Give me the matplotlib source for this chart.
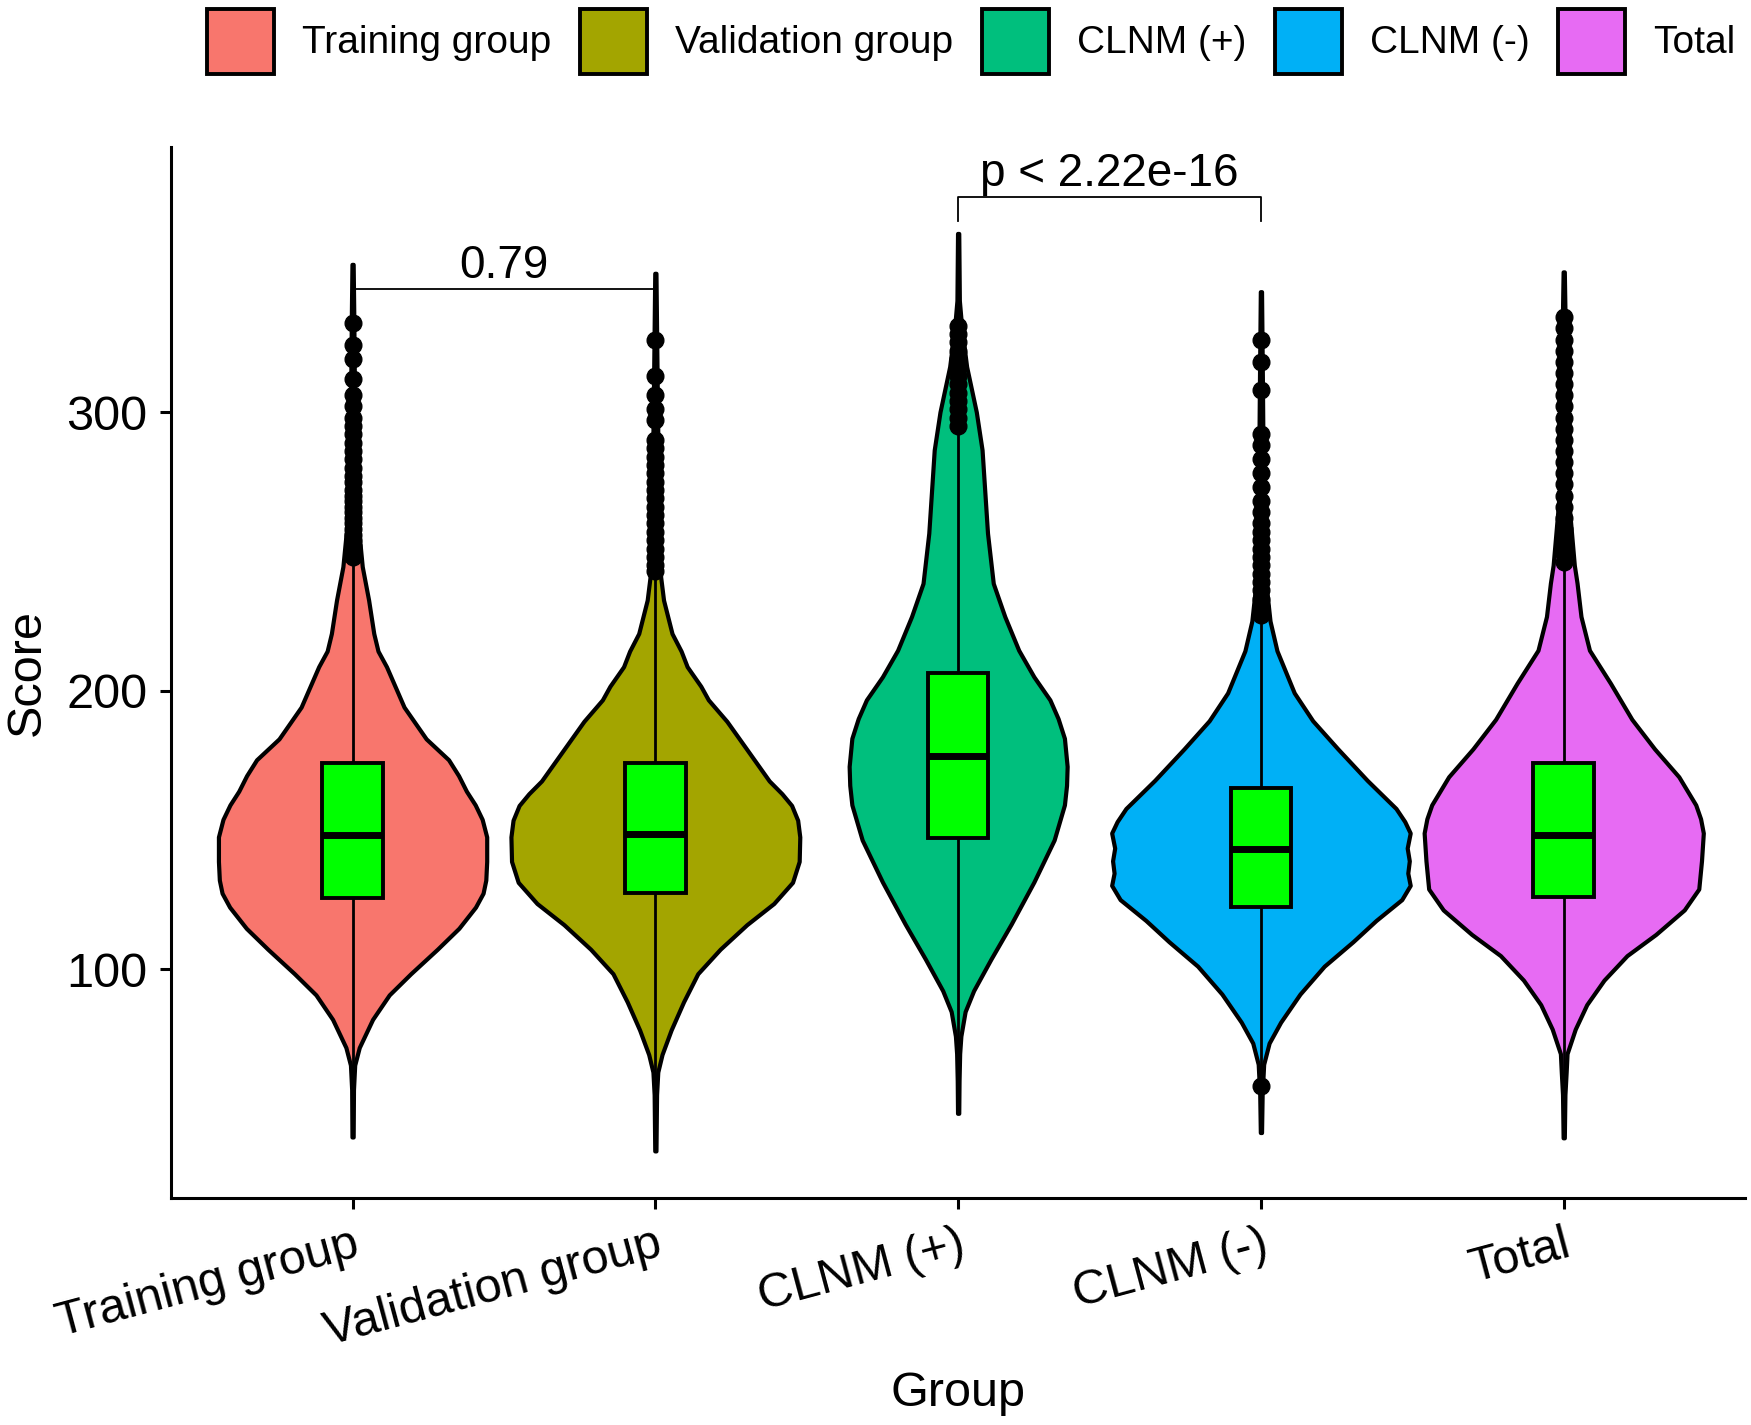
import matplotlib.pyplot as plt
from matplotlib.patches import Patch, Rectangle
import numpy as np

plt.rcParams['font.family'] = ['Liberation Sans', 'DejaVu Sans']

# --- DATA ---
groups = ["Training group", "Validation group", "CLNM (+)", "CLNM (-)", "Total"]
colors = ["#F8766D", "#A3A500", "#00BF7D", "#00B0F6", "#E76BF3"]

# violin outlines: score levels and half widths (in x units)
train_y = [39.8, 56.8, 65.6, 71.9, 82.0, 90.8, 98.4, 107.2, 114.7, 122.3, 127.3, 132.0, 138.7, 147.5,
           153.8, 159.0, 163.9, 169.5, 175.2, 182.7, 194.1, 208.6, 214.2, 220.5, 232.5, 244.5, 260, 280,
           310, 335, 353]
train_w = [0.002, 0.003, 0.007, 0.022, 0.066, 0.121, 0.192, 0.280, 0.351, 0.406, 0.431, 0.440, 0.443, 0.443,
           0.428, 0.405, 0.376, 0.350, 0.317, 0.243, 0.170, 0.112, 0.084, 0.070, 0.053, 0.032, 0.018, 0.010,
           0.006, 0.004, 0.002]

valid_y = [34.8, 55, 63.1, 69.4, 78.2, 88.3, 98.4, 107.2, 116.0, 123.6, 131.2, 138.7, 147.5, 153.5,
           158.8, 163.0, 167.6, 177.7, 189.0, 196.7, 201.6, 208.6, 214.2, 220.5, 232.5, 243, 260, 292,
           320, 349.8]
valid_w = [0.002, 0.004, 0.008, 0.022, 0.052, 0.093, 0.140, 0.214, 0.302, 0.391, 0.453, 0.475, 0.477, 0.470,
           0.450, 0.418, 0.376, 0.310, 0.236, 0.175, 0.150, 0.105, 0.085, 0.055, 0.027, 0.015, 0.010, 0.008,
           0.005, 0.002]

pos_y = [48.3, 60, 69.7, 76.0, 84.8, 92.3, 103.6, 116.2, 131.3, 146.4, 159.0, 166.0, 172.8, 182.9,
         190.0, 196.7, 205, 214.5, 226.6, 238.5, 256.5, 286.4, 300, 316.3, 330, 340, 364.1]
pos_w = [0.002, 0.003, 0.005, 0.009, 0.023, 0.051, 0.108, 0.175, 0.250, 0.317, 0.351, 0.358, 0.360, 0.351,
         0.330, 0.303, 0.250, 0.200, 0.154, 0.116, 0.097, 0.079, 0.060, 0.028, 0.012, 0.004, 0.002]

neg_y = [41.4, 55, 65.9, 73.5, 81.0, 91.1, 101.1, 109.9, 117.5, 125.0, 130.1, 134.5, 138.9, 143.5,
         148.9, 153.0, 157.7, 167.8, 179.1, 189.2, 199.2, 214.3, 225, 240, 270, 310, 343.2]
neg_w = [0.002, 0.004, 0.009, 0.027, 0.065, 0.129, 0.209, 0.304, 0.380, 0.465, 0.493, 0.485, 0.490, 0.483,
         0.493, 0.475, 0.446, 0.351, 0.254, 0.171, 0.110, 0.053, 0.030, 0.015, 0.008, 0.005, 0.002]

total_y = [39.5, 55, 63, 69.7, 78.5, 87.3, 96.1, 104.9, 112.5, 121.3, 128.8, 138.9, 148.9, 154.0,
           159.0, 169.1, 179.1, 189.7, 202.7, 214.5, 226.6, 238.6, 245, 270, 300, 330, 350.3]
total_w = [0.002, 0.004, 0.008, 0.011, 0.038, 0.076, 0.133, 0.209, 0.304, 0.398, 0.446, 0.455, 0.461, 0.452,
           0.436, 0.380, 0.300, 0.225, 0.154, 0.085, 0.057, 0.044, 0.035, 0.015, 0.008, 0.005, 0.002]

violin_y = [train_y, valid_y, pos_y, neg_y, total_y]
violin_w = [train_w, valid_w, pos_w, neg_w, total_w]

# box stats
q1 = [125.6, 127.3, 147.0, 122.5, 125.9]
med = [148.2, 148.7, 176.6, 143.3, 148.2]
q3 = [174.1, 174.2, 206.5, 165.0, 174.1]

# outliers
train_out = [332, 324, 319, 312, 306, 302, 298, 295, 292, 289, 286, 283, 280, 277, 275, 272, 270,
             268, 266, 264, 262, 260, 258, 256, 254, 252, 250, 248]
valid_out = [326, 313, 306, 301, 297, 290, 287, 284, 281, 278, 275, 272, 269, 266, 263, 260, 257,
             254, 251, 248, 245, 243]
pos_out = [331, 328, 325, 322, 319, 316, 313, 310, 307, 304, 301, 298, 295]
neg_out = [326, 318, 308, 292, 288, 283, 278, 273, 268, 264, 260, 257, 254, 251, 248, 245, 242,
           239, 236, 233, 230, 227, 58]
total_out = [334, 330, 326, 322, 318, 314, 310, 306, 302, 298, 294, 290, 286, 282, 278, 274, 270,
             266, 262, 258, 255, 252, 249, 246]
outliers = [train_out, valid_out, pos_out, neg_out, total_out]

# comparisons
comparisons = [(1, 2, 344.1, "0.79"), (3, 4, 377.0, "p < 2.22e-16")]

fig = plt.figure(figsize=(17.51, 14.25), dpi=100)
ax = fig.add_axes([0.0976, 0.1591, 0.8992, 0.7375])

for i, g in enumerate(groups):
    x = i + 1
    vy = np.array(violin_y[i])
    vw = np.array(violin_w[i])
    ax.fill_betweenx(vy, x - vw, x + vw, facecolor=colors[i], edgecolor='black', linewidth=3,
                     joinstyle='round', zorder=2)
    # whisker / tail line
    ax.plot([x, x], [vy[0], vy[-1]], color='black', lw=2, zorder=3)
    # box
    ax.add_patch(Rectangle((x - 0.1, q1[i]), 0.2, q3[i] - q1[i], facecolor='#00FF00',
                           edgecolor='black', linewidth=2.8, zorder=4))
    ax.plot([x - 0.1, x + 0.1], [med[i], med[i]], color='black', lw=5, solid_capstyle='butt', zorder=5)
    ax.plot(np.full(len(outliers[i]), x), outliers[i], 'o', color='black', ms=12, zorder=6)

# significance brackets
tip = 8.6
for a, b, yb, lab in comparisons:
    ax.plot([a, a, b, b], [yb - tip, yb, yb, yb - tip], color='black', lw=1.3, zorder=7)
    ax.text((a + b) / 2, yb + 0.4, lab, ha='center', va='bottom', fontsize=33)

ax.set_xlim(0.4, 5.6)
ax.set_ylim(17.8, 395)
ax.set_xticks(range(1, 6))
ax.set_xticklabels(groups, rotation=15, ha='right', va='top', rotation_mode='anchor')
ax.set_yticks([100, 200, 300])

ax.spines['top'].set_visible(False)
ax.spines['right'].set_visible(False)
for s in ['left', 'bottom']:
    ax.spines[s].set_linewidth(2.2)
ax.tick_params(labelsize=35, length=8, width=2.2, pad=9)

ax.set_ylabel("Score", fontsize=35, va='center')
ax.yaxis.set_label_coords(-0.091, 0.5)
ax.set_xlabel("Group", fontsize=35, va='center')
ax.xaxis.set_label_coords(0.5, -0.186)

handles = [Patch(facecolor=c, edgecolor='black', linewidth=2.8, label=g) for g, c in zip(groups, colors)]
fig.legend(handles=handles, loc='center', bbox_to_anchor=(0.5548, 0.971), ncol=5, frameon=False,
           fontsize=28, handlelength=1.72, handleheight=2.2, handletextpad=0.73, columnspacing=0.73)

fig.savefig("out.png", dpi=100)
